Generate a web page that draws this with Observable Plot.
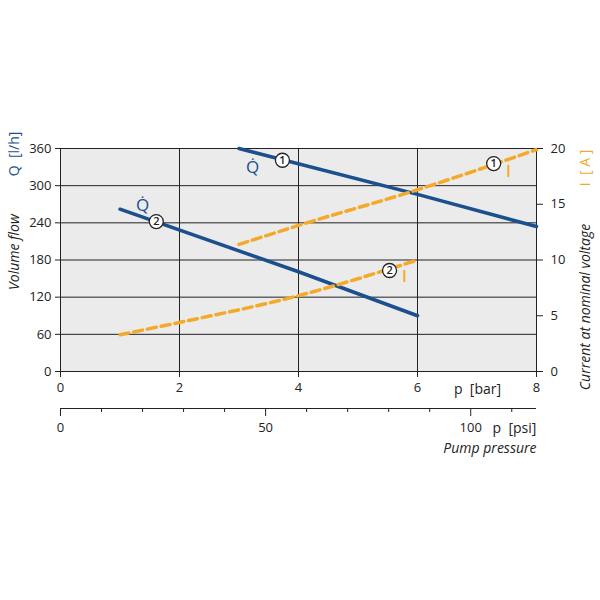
<!DOCTYPE html>
<html><head><meta charset="utf-8">
<script src="https://cdn.jsdelivr.net/npm/d3@7"></script>
<script src="https://cdn.jsdelivr.net/npm/@observablehq/plot@0.6"></script>
<style>body{margin:0;background:#fff}</style>
</head><body><div id="chart"></div>
<script>
// ---- data ----
const barTicks = [0, 2, 4, 6, 8];
const flowTicks = [0, 60, 120, 180, 240, 300, 360];
const currentTicks = [0, 5, 10, 15, 20];
const psiMajor = [0, 50, 100];
const psiMinor = [10, 20, 30, 40, 60, 70, 80, 90, 110];

const q1Pressure = [3, 6, 8];
const q1Flow = [360, 286, 234];
const q2Pressure = [1, 4, 6];
const q2Flow = [262, 161, 90];
const i1Pressure = [3, 4, 6, 8];
const i1Current = [11.4, 13.1, 16.3, 19.9];
const i2Pressure = [1, 2, 4, 6];
const i2Current = [3.3, 4.4, 6.8, 10.0];

const qLabelPressure = [3.23, 1.38];
const qLabelFlow = [329, 268];
const qCirclePressure = [3.73, 1.61];
const qCircleFlow = [341, 242];
const qCircleText = ["1", "2"];
const iCirclePressure = [7.28, 5.53];
const iCircleCurrent = [18.65, 9.06];
const iCircleText = ["1", "2"];
const iMarkPressure = [7.53, 5.78];
const iMarkCurrent = [17.9, 8.5];

const psiPerBar = 14.5038;
const k = 360 / 20; // current -> flow scale factor

const blue = "#1b4f8e";
const orange = "#f4a92b";
const ink = "#222";

const toPts = (xs, ys, f = 1) => xs.map((x, i) => ({x, y: ys[i] * f}));
const lbl = {textAnchor: "middle", lineAnchor: "middle", fontSize: 14, fill: ink};

const chart = Plot.plot({
  width: 600, height: 600,
  marginTop: 148, marginBottom: 229, marginLeft: 60, marginRight: 64,
  style: {fontFamily: "'Open Sans', sans-serif", fontSize: "13px", background: "white", color: "#222"},
  x: {domain: [0, 8]},
  y: {domain: [0, 360]},
  marks: [
    Plot.frame({fill: "#ebebeb"}),
    Plot.gridX([2, 4, 6], {stroke: ink, strokeOpacity: 1}),
    Plot.gridY(flowTicks, {stroke: ink, strokeOpacity: 1}),
    Plot.frame({stroke: ink}),
    // lines
    Plot.line(toPts(q1Pressure, q1Flow), {x: "x", y: "y", stroke: blue, strokeWidth: 3.5}),
    Plot.line(toPts(q2Pressure, q2Flow), {x: "x", y: "y", stroke: blue, strokeWidth: 3.5}),
    Plot.line(toPts(i1Pressure, i1Current, k), {x: "x", y: "y", stroke: orange, strokeWidth: 3.5, strokeDasharray: "9,5", curve: "monotone-x"}),
    Plot.line(toPts(i2Pressure, i2Current, k), {x: "x", y: "y", stroke: orange, strokeWidth: 3.5, strokeDasharray: "9,5", curve: "monotone-x"}),
    // labels
    Plot.text(toPts(qLabelPressure, qLabelFlow), {x: "x", y: "y", text: () => "Q\u0307", fill: blue, fontSize: 17}),
    Plot.dot(toPts(qCirclePressure, qCircleFlow), {x: "x", y: "y", r: 7, fill: "white", stroke: ink, strokeWidth: 1.3}),
    Plot.text(toPts(qCirclePressure, qCircleFlow), {x: "x", y: "y", text: (d, i) => qCircleText[i], fontSize: 11, fill: ink, fontWeight: 600}),
    Plot.dot(toPts(iCirclePressure, iCircleCurrent, k), {x: "x", y: "y", r: 7, fill: "white", stroke: ink, strokeWidth: 1.3}),
    Plot.text(toPts(iCirclePressure, iCircleCurrent, k), {x: "x", y: "y", text: (d, i) => iCircleText[i], fontSize: 11, fill: ink, fontWeight: 600}),
    Plot.text(toPts(iMarkPressure, iMarkCurrent, k), {x: "x", y: "y", text: () => "I", fill: orange, fontSize: 16, fontWeight: 600}),
    // axes
    Plot.axisX(barTicks, {anchor: "bottom", tickSize: 6, tickPadding: 5, label: null, fontSize: 13}),
    Plot.axisY(flowTicks, {anchor: "left", tickSize: 5, tickPadding: 4, label: null, fontSize: 13}),
    Plot.axisY(currentTicks.map(d => d * k), {anchor: "right", tickSize: 6, tickPadding: 8, label: null, tickFormat: d => d / k, fontSize: 13}),
    Plot.ruleY([0], {dy: 37, stroke: ink}),
    Plot.axisX(psiMajor.map(d => d / psiPerBar), {anchor: "bottom", dy: 37, tickSize: 8, tickPadding: 6, label: null, tickFormat: d => Math.round(d * psiPerBar), fontSize: 13}),
    Plot.axisX(psiMinor.map(d => d / psiPerBar), {anchor: "bottom", dy: 37, tickSize: 4, label: null, tickFormat: () => "", fontSize: 13}),
    // axis titles
    Plot.text(["p  [bar]"], {...lbl, frameAnchor: "bottom-right", dx: -59, dy: 18}),
    Plot.text(["p  [psi]"], {...lbl, frameAnchor: "bottom-right", dx: -22, dy: 57}),
    Plot.text(["Pump pressure"], {...lbl, frameAnchor: "bottom-right", dx: 0, dy: 77, textAnchor: "end", fontStyle: "italic"}),
    Plot.text(["Volume flow"], {...lbl, frameAnchor: "left", rotate: -90, dx: -46, dy: -8, fontStyle: "italic"}),
    Plot.text(["Q  [l/h]"], {...lbl, frameAnchor: "left", rotate: -90, dx: -46, dy: -106, fill: blue}),
    Plot.text(["Current at nominal voltage"], {...lbl, frameAnchor: "right", rotate: -90, dx: 49, dy: 47, fontStyle: "italic"}),
    Plot.text(["I  [ A ]"], {...lbl, frameAnchor: "right", rotate: -90, dx: 49, dy: -92, fill: orange})
  ]
});
document.getElementById("chart").appendChild(chart);
</script>
</body></html>
